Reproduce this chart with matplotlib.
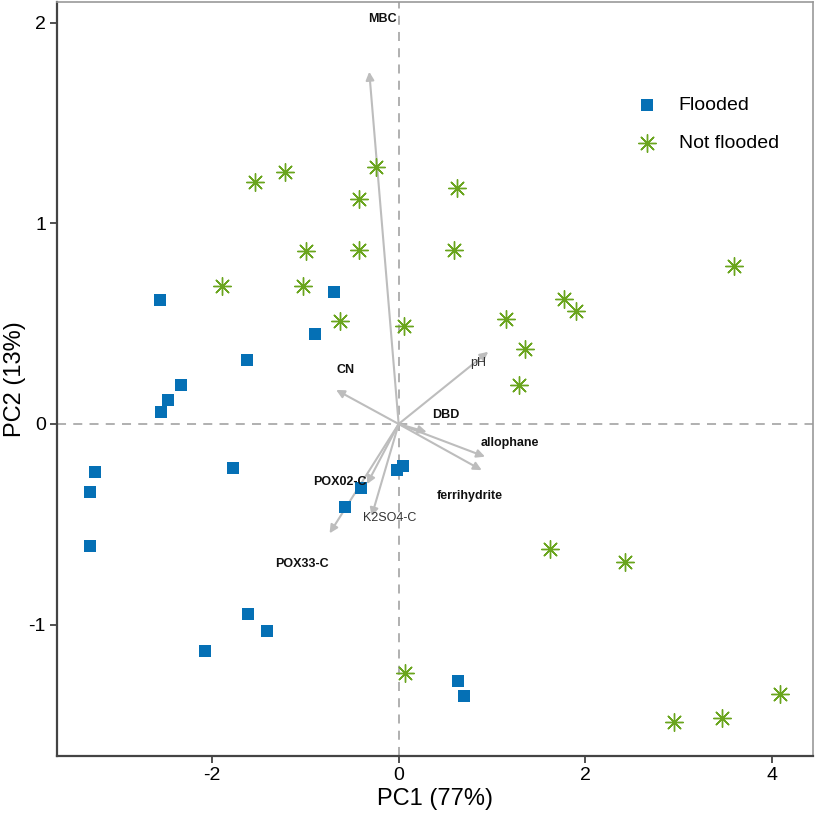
import numpy as np
import matplotlib
matplotlib.use('Agg')
import matplotlib.pyplot as plt

plt.rcParams['font.family'] = ['Liberation Sans', 'DejaVu Sans']
plt.rcParams['axes.unicode_minus'] = False

# sample scores
flooded_pc1 = [-2.56, -0.69, -0.90, -1.63, -2.33, -2.47, -2.55, -3.25, -3.31, -3.31,
               -1.78, -0.02, 0.05, -0.40, -0.57, -1.61, -1.41, -2.07, 0.64, 0.70]
flooded_pc2 = [0.62, 0.66, 0.45, 0.32, 0.195, 0.12, 0.06, -0.238, -0.337, -0.61,
               -0.218, -0.23, -0.21, -0.32, -0.415, -0.947, -1.03, -1.13, -1.28, -1.354]

notflooded_pc1 = [-1.54, -1.22, -0.24, -0.43, -0.99, -0.42, -1.89, -1.03, -0.63, 0.057,
                  0.63, 0.59, 3.59, 1.775, 1.90, 1.15, 1.35, 1.29,
                  1.625, 2.42, 0.07, 2.95, 3.46, 4.09]
notflooded_pc2 = [1.206, 1.255, 1.283, 1.12, 0.864, 0.867, 0.688, 0.688, 0.513, 0.49,
                  1.175, 0.867, 0.79, 0.623, 0.565, 0.522, 0.372, 0.194,
                  -0.623, -0.69, -1.24, -1.487, -1.467, -1.346]

# variable loadings (arrow tips) and label positions
variables = ['MBC', 'CN', 'pH', 'DBD', 'allophane', 'ferrihydrite', 'POX02-C', 'K2SO4-C', 'POX33-C']
load_pc1 = [-0.315, -0.67, 0.96, 0.30, 0.925, 0.89, -0.34, -0.29, -0.74]
load_pc2 = [1.756, 0.17, 0.36, -0.04, -0.163, -0.23, -0.30, -0.46, -0.545]
label_pc1 = [-0.17, -0.57, 0.85, 0.51, 1.19, 0.76, -0.63, -0.10, -1.04]
label_pc2 = [2.02, 0.27, 0.305, 0.045, -0.096, -0.357, -0.29, -0.47, -0.70]
label_weight = ['bold', 'bold', 'normal', 'bold', 'bold', 'bold', 'bold', 'normal', 'bold']

blue = '#0570b5'
green = '#6aa51e'
grey = '#bdbdbd'

fig = plt.figure(figsize=(8.16, 8.17), dpi=100)
ax = fig.add_axes([0.0699, 0.0747, 0.9265, 0.9229])

ax.axhline(0, color='#aaaaaa', linestyle=(0, (5, 4)), linewidth=1.3, zorder=1)
ax.axvline(0, color='#aaaaaa', linestyle=(0, (5, 4)), linewidth=1.3, zorder=1)

for i, v in enumerate(variables):
    ax.annotate('', xy=(load_pc1[i], load_pc2[i]), xytext=(0, 0),
                arrowprops=dict(arrowstyle='-|>', color=grey, lw=1.5,
                                mutation_scale=12, shrinkA=0, shrinkB=0),
                zorder=2)
    ax.text(label_pc1[i], label_pc2[i], v, fontsize=9, fontweight=label_weight[i],
            ha='center', va='center', color='#111111' if label_weight[i] == 'bold' else '#333333',
            zorder=4)

ax.scatter(flooded_pc1, flooded_pc2, marker='s', s=70, color=blue, linewidths=0,
           label='Flooded', zorder=3)
ax.scatter(notflooded_pc1, notflooded_pc2, marker=(8, 2, 0), s=160, color=green,
           linewidths=1.0, label='Not flooded', zorder=3)

ax.set_xlim(-3.66, 4.44)
ax.set_ylim(-1.655, 2.104)
ax.set_xticks([-2, 0, 2, 4])
ax.set_yticks([-1, 0, 1, 2])
ax.tick_params(direction='out', length=5, width=1.2, labelsize=14, colors='#333333',
               labelcolor='black', pad=3)

for side in ['left', 'bottom']:
    ax.spines[side].set_color('#444444')
    ax.spines[side].set_linewidth(1.6)
for side in ['top', 'right']:
    ax.spines[side].set_color('#999999')
    ax.spines[side].set_linewidth(1.2)

ax.set_xlabel('PC1 (77%)', fontsize=17, labelpad=3)
ax.set_ylabel('PC2 (13%)', fontsize=17, labelpad=2)

ax.legend(loc='upper left', bbox_to_anchor=(0.732, 0.898), frameon=False, fontsize=14,
          handletextpad=0.6, labelspacing=1.05, scatterpoints=1)

plt.savefig('out.png', dpi=100)
